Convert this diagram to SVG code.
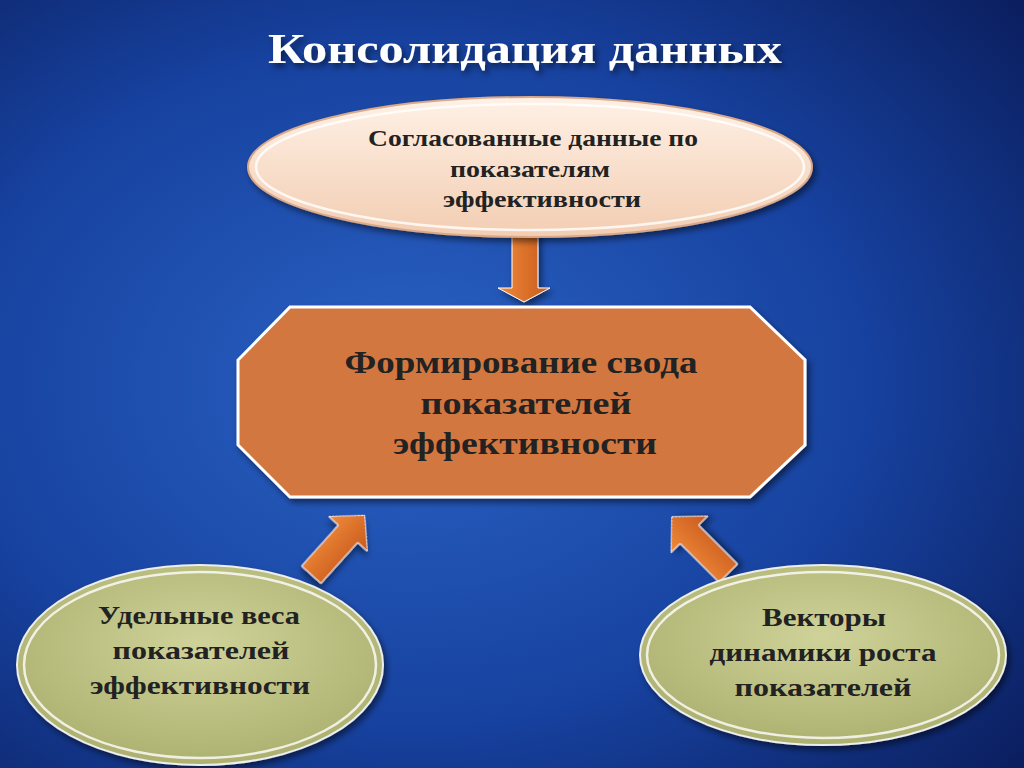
<svg xmlns="http://www.w3.org/2000/svg" width="1024" height="768" viewBox="0 0 1024 768">
<defs>
<radialGradient id="bg" cx="0.4" cy="0.5" r="0.8">
<stop offset="0" stop-color="#2a62c4"/><stop offset="0.55" stop-color="#1742a0"/><stop offset="1" stop-color="#0a1c5a"/>
</radialGradient>
<linearGradient id="peach" x1="0" y1="0" x2="0" y2="1"><stop offset="0" stop-color="#fff1e6"/><stop offset="1" stop-color="#f2cdb2"/></linearGradient>
<radialGradient id="olive" cx="0.5" cy="0.4" r="0.7"><stop offset="0" stop-color="#cfd39a"/><stop offset="1" stop-color="#a7ab68"/></radialGradient>
<linearGradient id="arr" x1="0" y1="0" x2="1" y2="0"><stop offset="0" stop-color="#f08a3a"/><stop offset="1" stop-color="#c85a1c"/></linearGradient>
<filter id="sh" x="-10%" y="-10%" width="130%" height="130%"><feDropShadow dx="3" dy="4" stdDeviation="3" flood-opacity="0.5"/></filter>
</defs>
<style>
text{font-family:"Liberation Serif","DejaVu Serif",serif;font-weight:bold;fill:#222;text-anchor:middle}
.ring{fill:none;stroke:#fff;stroke-width:2.5;opacity:0.8}
.arrow{fill:url(#arr);stroke:#fff;stroke-width:1;filter:url(#sh)}
</style>
<rect width="1024" height="768" fill="url(#bg)"/>
<text x="525" y="63" textLength="514" lengthAdjust="spacingAndGlyphs" style="font-size:42px;fill:#fff;filter:url(#sh)">Консолидация данных</text>
<g id="connectors">
<polygon class="arrow" points="512,232 538,232 538,288 550,288 524,302 498,288 512,288"/>
<polygon class="arrow" transform="translate(338,545) rotate(42)" points="-13,40 13,40 13,-15 26,-15 0,-40 -26,-15 -13,-15"/>
<polygon class="arrow" transform="translate(700,545) rotate(-45)" points="-13,40 13,40 13,-15 26,-15 0,-40 -26,-15 -13,-15"/>
</g>
<g id="top">
<ellipse cx="530" cy="167" rx="282" ry="70" fill="url(#peach)" stroke="#d9a98a" stroke-width="2" filter="url(#sh)"/>
<ellipse class="ring" cx="530" cy="167" rx="274" ry="63"/>
<text x="533" y="146" textLength="330" lengthAdjust="spacingAndGlyphs" style="font-size:23px">Согласованные данные по</text>
<text x="530" y="177" textLength="160" lengthAdjust="spacingAndGlyphs" style="font-size:23px">показателям</text>
<text x="542" y="207" textLength="198" lengthAdjust="spacingAndGlyphs" style="font-size:23px">эффективности</text>
</g>
<g id="center">
<polygon points="290,307 750,307 805,360 805,445 750,497 290,497 238,445 238,360" fill="#d2773f" stroke="#fff" stroke-width="3" filter="url(#sh)"/>
<text x="521" y="373" textLength="353" lengthAdjust="spacingAndGlyphs" style="font-size:31px">Формирование свода</text>
<text x="526" y="414" textLength="211" lengthAdjust="spacingAndGlyphs" style="font-size:31px">показателей</text>
<text x="525" y="454" textLength="264" lengthAdjust="spacingAndGlyphs" style="font-size:31px">эффективности</text>
</g>
<g id="left">
<ellipse cx="200" cy="665" rx="183" ry="100" fill="url(#olive)" stroke="#eee" stroke-width="2" filter="url(#sh)"/>
<ellipse class="ring" cx="200" cy="665" rx="176" ry="93"/>
<text x="199" y="624" textLength="202" lengthAdjust="spacingAndGlyphs" style="font-size:25px">Удельные веса</text>
<text x="201" y="659" textLength="177" lengthAdjust="spacingAndGlyphs" style="font-size:25px">показателей</text>
<text x="200" y="694" textLength="220" lengthAdjust="spacingAndGlyphs" style="font-size:25px">эффективности</text>
</g>
<g id="right">
<ellipse cx="823" cy="655" rx="183" ry="90" fill="url(#olive)" stroke="#eee" stroke-width="2" filter="url(#sh)"/>
<ellipse class="ring" cx="823" cy="655" rx="176" ry="83"/>
<text x="824" y="626" textLength="124" lengthAdjust="spacingAndGlyphs" style="font-size:25px">Векторы</text>
<text x="823" y="661" textLength="227" lengthAdjust="spacingAndGlyphs" style="font-size:25px">динамики роста</text>
<text x="823" y="696" textLength="177" lengthAdjust="spacingAndGlyphs" style="font-size:25px">показателей</text>
</g>
</svg>
